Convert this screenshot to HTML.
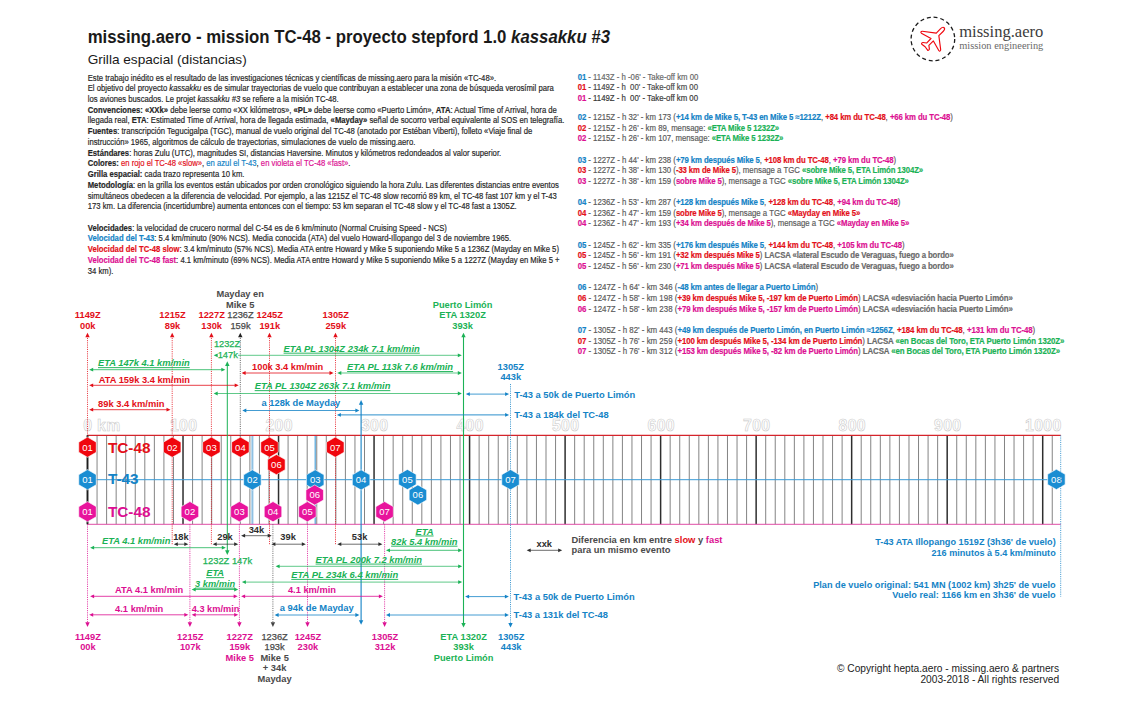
<!DOCTYPE html>
<html lang="es"><head><meta charset="utf-8"><title>missing.aero - mission TC-48 - Grilla espacial</title>
<style>
html,body{margin:0;padding:0;background:#fff;}
body{width:1140px;height:705px;overflow:hidden;font-family:"Liberation Sans",sans-serif;}
svg{display:block;font-family:"Liberation Sans",sans-serif;}
svg text{white-space:pre;}
</style></head><body>
<svg width="1140" height="705" viewBox="0 0 1140 705">
<rect x="0" y="0" width="1140" height="705" fill="#ffffff"/>
<text transform="translate(87.70 43.00) scale(0.8850 1)" font-size="19.0" fill="#1a1a1a" text-anchor="start" xml:space="preserve" textLength="590.17" lengthAdjust="spacingAndGlyphs" ><tspan font-weight="bold">missing.aero - mission TC-48 - proyecto stepford 1.0 </tspan><tspan font-weight="bold" font-style="italic">kassakku #3</tspan></text>
<text transform="translate(87.70 63.90) scale(1.0000 1)" font-size="13" fill="#1a1a1a" text-anchor="start" xml:space="preserve" textLength="159.00" lengthAdjust="spacingAndGlyphs" >Grilla espacial (distancias)</text>
<g id="leftblock">
<text transform="translate(87.70 80.55) scale(0.8754 1)" font-size="8.8" fill="#262626" text-anchor="start" xml:space="preserve" class="ll" stroke="#262626" stroke-width="0.18">Este trabajo inédito es el resultado de las investigaciones técnicas y científicas de missing.aero para la misión «TC-48».</text>
<text transform="translate(87.70 91.27) scale(0.8754 1)" font-size="8.8" fill="#262626" text-anchor="start" xml:space="preserve" class="ll" stroke="#262626" stroke-width="0.18">El objetivo del proyecto <tspan font-style="italic">kassakku</tspan> es de simular trayectorias de vuelo que contribuyan a establecer una zona de búsqueda verosímil para</text>
<text transform="translate(87.70 102.00) scale(0.8754 1)" font-size="8.8" fill="#262626" text-anchor="start" xml:space="preserve" class="ll" stroke="#262626" stroke-width="0.18">los aviones buscados. Le projet <tspan font-style="italic">kassakku #3</tspan> se refiere a la misión TC-48.</text>
<text transform="translate(87.70 112.72) scale(0.8754 1)" font-size="8.8" fill="#262626" text-anchor="start" xml:space="preserve" class="ll" stroke="#262626" stroke-width="0.18"><tspan font-weight="bold">Convenciones: «XXk»</tspan> debe leerse como «XX kilómetros», <tspan font-weight="bold">«PL»</tspan> debe leerse como «Puerto Limón», <tspan font-weight="bold">ATA</tspan>: Actual Time of Arrival, hora de</text>
<text transform="translate(87.70 123.45) scale(0.8754 1)" font-size="8.8" fill="#262626" text-anchor="start" xml:space="preserve" class="ll" stroke="#262626" stroke-width="0.18">llegada real, <tspan font-weight="bold">ETA</tspan>: Estimated Time of Arrival, hora de llegada estimada, <tspan font-weight="bold">«Mayday»</tspan> señal de socorro verbal equivalente al SOS en telegrafía.</text>
<text transform="translate(87.70 134.18) scale(0.8754 1)" font-size="8.8" fill="#262626" text-anchor="start" xml:space="preserve" class="ll" stroke="#262626" stroke-width="0.18"><tspan font-weight="bold">Fuentes</tspan>: transcripción Tegucigalpa (TGC), manual de vuelo original del TC-48 (anotado por Estéban Viberti), folleto «Viaje final de</text>
<text transform="translate(87.70 144.90) scale(0.8754 1)" font-size="8.8" fill="#262626" text-anchor="start" xml:space="preserve" class="ll" stroke="#262626" stroke-width="0.18">instrucción» 1965, algoritmos de cálculo de trayectorias, simulaciones de vuelo de missing.aero.</text>
<text transform="translate(87.70 155.62) scale(0.8754 1)" font-size="8.8" fill="#262626" text-anchor="start" xml:space="preserve" class="ll" stroke="#262626" stroke-width="0.18"><tspan font-weight="bold">Estándares</tspan>: horas Zulu (UTC), magnitudes SI, distancias Haversine. Minutos y kilómetros redondeados al valor superior.</text>
<text transform="translate(87.70 166.35) scale(0.8754 1)" font-size="8.8" fill="#262626" text-anchor="start" xml:space="preserve" class="ll" stroke="#262626" stroke-width="0.18"><tspan font-weight="bold">Colores:</tspan> <tspan fill="#e30f19" stroke="#e30f19">en rojo el TC-48 «slow»</tspan>, <tspan fill="#1483c6" stroke="#1483c6">en azul el T-43</tspan>, <tspan fill="#dc0f92" stroke="#dc0f92">en violeta el TC-48 «fast»</tspan>.</text>
<text transform="translate(87.70 177.07) scale(0.8754 1)" font-size="8.8" fill="#262626" text-anchor="start" xml:space="preserve" class="ll" stroke="#262626" stroke-width="0.18"><tspan font-weight="bold">Grilla espacial:</tspan> cada trazo representa 10 km.</text>
<text transform="translate(87.70 187.80) scale(0.8754 1)" font-size="8.8" fill="#262626" text-anchor="start" xml:space="preserve" class="ll" stroke="#262626" stroke-width="0.18"><tspan font-weight="bold">Metodología</tspan>: en la grilla los eventos están ubicados por orden cronológico siguiendo la hora Zulu. Las diferentes distancias entre eventos</text>
<text transform="translate(87.70 198.52) scale(0.8754 1)" font-size="8.8" fill="#262626" text-anchor="start" xml:space="preserve" class="ll" stroke="#262626" stroke-width="0.18">simultáneos obedecen a la diferencia de velocidad. Por ejemplo, a las 1215Z el TC-48 slow recorrió 89 km, el TC-48 fast 107 km y el T-43</text>
<text transform="translate(87.70 209.25) scale(0.8754 1)" font-size="8.8" fill="#262626" text-anchor="start" xml:space="preserve" class="ll" stroke="#262626" stroke-width="0.18">173 km. La diferencia (incertidumbre) aumenta entonces con el tiempo: 53 km separan el TC-48 slow y el TC-48 fast a 1305Z.</text>
<text transform="translate(87.70 230.70) scale(0.8754 1)" font-size="8.8" fill="#262626" text-anchor="start" xml:space="preserve" class="ll" stroke="#262626" stroke-width="0.18"><tspan font-weight="bold">Velocidades</tspan>: la velocidad de crucero normal del C-54 es de 6 km/minuto (Normal Cruising Speed - NCS)</text>
<text transform="translate(87.70 241.43) scale(0.8754 1)" font-size="8.8" fill="#262626" text-anchor="start" xml:space="preserve" class="ll" stroke="#262626" stroke-width="0.18"><tspan font-weight="bold" fill="#1483c6" stroke="#1483c6">Velocidad del T-43</tspan>: 5.4 km/minuto (90% NCS). Media conocida (ATA) del vuelo Howard-Illopango del 3 de noviembre 1965.</text>
<text transform="translate(87.70 252.15) scale(0.8754 1)" font-size="8.8" fill="#262626" text-anchor="start" xml:space="preserve" class="ll" stroke="#262626" stroke-width="0.18"><tspan font-weight="bold" fill="#e30f19" stroke="#e30f19">Velocidad del TC-48 slow</tspan>: 3.4 km/minuto (57% NCS). Media ATA entre Howard y Mike 5 suponiendo Mike 5 a 1236Z (Mayday en Mike 5)</text>
<text transform="translate(87.70 262.88) scale(0.8754 1)" font-size="8.8" fill="#262626" text-anchor="start" xml:space="preserve" class="ll" stroke="#262626" stroke-width="0.18"><tspan font-weight="bold" fill="#dc0f92" stroke="#dc0f92">Velocidad del TC-48 fast</tspan>: 4.1 km/minuto (69% NCS). Media ATA entre Howard y Mike 5 suponiendo Mike 5 a 1227Z (Mayday en Mike 5 +</text>
<text transform="translate(87.70 273.60) scale(0.8754 1)" font-size="8.8" fill="#262626" text-anchor="start" xml:space="preserve" class="ll" stroke="#262626" stroke-width="0.18">34 km).</text>
</g>
<g id="rightblock">
<text transform="translate(577.70 79.55) scale(0.8870 1)" font-size="8.8" fill="#686868" text-anchor="start" xml:space="preserve" class="rl" stroke="#686868" stroke-width="0.18"><tspan font-weight="bold" letter-spacing="-0.13" fill="#1483c6" stroke="#1483c6">01</tspan> - 1143Z - h -06' - Take-off km 00</text>
<text transform="translate(577.70 90.23) scale(0.8870 1)" font-size="8.8" fill="#484848" text-anchor="start" xml:space="preserve" class="rl" stroke="#484848" stroke-width="0.18"><tspan font-weight="bold" letter-spacing="-0.13" fill="#e30f19" stroke="#e30f19">01</tspan> - 1149Z - h  00' - Take-off km 00</text>
<text transform="translate(577.70 100.91) scale(0.8870 1)" font-size="8.8" fill="#383838" text-anchor="start" xml:space="preserve" class="rl" stroke="#383838" stroke-width="0.18"><tspan font-weight="bold" letter-spacing="-0.13" fill="#dc0f92" stroke="#dc0f92">01</tspan> - 1149Z - h  00' - Take-off km 00</text>
<text transform="translate(577.70 119.90) scale(0.8870 1)" font-size="8.8" fill="#5a5a5a" text-anchor="start" xml:space="preserve" class="rl" stroke="#5a5a5a" stroke-width="0.18"><tspan font-weight="bold" letter-spacing="-0.13" fill="#1483c6" stroke="#1483c6">02</tspan> - 1215Z - h 32' - km 173 (<tspan font-weight="bold" letter-spacing="-0.13" fill="#1483c6" stroke="#1483c6">+14 km de Mike 5, T-43 en Mike 5 ≈1212Z</tspan>, <tspan font-weight="bold" letter-spacing="-0.13" fill="#e30f19" stroke="#e30f19">+84 km du TC-48</tspan>, <tspan font-weight="bold" letter-spacing="-0.13" fill="#dc0f92" stroke="#dc0f92">+66 km du TC-48</tspan>)</text>
<text transform="translate(577.70 130.55) scale(0.8870 1)" font-size="8.8" fill="#5a5a5a" text-anchor="start" xml:space="preserve" class="rl" stroke="#5a5a5a" stroke-width="0.18"><tspan font-weight="bold" letter-spacing="-0.13" fill="#e30f19" stroke="#e30f19">02</tspan> - 1215Z - h 26' - km 89, mensage: <tspan font-weight="bold" letter-spacing="-0.13" fill="#1bb256" stroke="#1bb256">«ETA Mike 5 1232Z»</tspan></text>
<text transform="translate(577.70 141.20) scale(0.8870 1)" font-size="8.8" fill="#5a5a5a" text-anchor="start" xml:space="preserve" class="rl" stroke="#5a5a5a" stroke-width="0.18"><tspan font-weight="bold" letter-spacing="-0.13" fill="#dc0f92" stroke="#dc0f92">02</tspan> - 1215Z - h 26' - km 107, mensage: <tspan font-weight="bold" letter-spacing="-0.13" fill="#1bb256" stroke="#1bb256">«ETA Mike 5 1232Z»</tspan></text>
<text transform="translate(577.70 162.50) scale(0.8870 1)" font-size="8.8" fill="#5a5a5a" text-anchor="start" xml:space="preserve" class="rl" stroke="#5a5a5a" stroke-width="0.18"><tspan font-weight="bold" letter-spacing="-0.13" fill="#1483c6" stroke="#1483c6">03</tspan> - 1227Z - h 44' - km 238 (<tspan font-weight="bold" letter-spacing="-0.13" fill="#1483c6" stroke="#1483c6">+79 km después Mike 5</tspan>, <tspan font-weight="bold" letter-spacing="-0.13" fill="#e30f19" stroke="#e30f19">+108 km du TC-48</tspan>, <tspan font-weight="bold" letter-spacing="-0.13" fill="#dc0f92" stroke="#dc0f92">+79 km du TC-48</tspan>)</text>
<text transform="translate(577.70 173.15) scale(0.8870 1)" font-size="8.8" fill="#5a5a5a" text-anchor="start" xml:space="preserve" class="rl" stroke="#5a5a5a" stroke-width="0.18"><tspan font-weight="bold" letter-spacing="-0.13" fill="#e30f19" stroke="#e30f19">03</tspan> - 1227Z - h 38' - km 130 (<tspan font-weight="bold" letter-spacing="-0.13" fill="#e30f19" stroke="#e30f19">-33 km de Mike 5</tspan>), mensage a TGC <tspan font-weight="bold" letter-spacing="-0.13" fill="#1bb256" stroke="#1bb256">«sobre Mike 5, ETA Limón 1304Z»</tspan></text>
<text transform="translate(577.70 183.80) scale(0.8870 1)" font-size="8.8" fill="#5a5a5a" text-anchor="start" xml:space="preserve" class="rl" stroke="#5a5a5a" stroke-width="0.18"><tspan font-weight="bold" letter-spacing="-0.13" fill="#dc0f92" stroke="#dc0f92">03</tspan> - 1227Z - h 38' - km 159 (<tspan font-weight="bold" letter-spacing="-0.13" fill="#dc0f92" stroke="#dc0f92">sobre Mike 5</tspan>), mensage a TGC <tspan font-weight="bold" letter-spacing="-0.13" fill="#1bb256" stroke="#1bb256">«sobre Mike 5, ETA Limón 1304Z»</tspan></text>
<text transform="translate(577.70 205.10) scale(0.8870 1)" font-size="8.8" fill="#5a5a5a" text-anchor="start" xml:space="preserve" class="rl" stroke="#5a5a5a" stroke-width="0.18"><tspan font-weight="bold" letter-spacing="-0.13" fill="#1483c6" stroke="#1483c6">04</tspan> - 1236Z - h 53' - km 287 (<tspan font-weight="bold" letter-spacing="-0.13" fill="#1483c6" stroke="#1483c6">+128 km después Mike 5</tspan>, <tspan font-weight="bold" letter-spacing="-0.13" fill="#e30f19" stroke="#e30f19">+128 km du TC-48</tspan>, <tspan font-weight="bold" letter-spacing="-0.13" fill="#dc0f92" stroke="#dc0f92">+94 km du TC-48</tspan>)</text>
<text transform="translate(577.70 215.75) scale(0.8870 1)" font-size="8.8" fill="#5a5a5a" text-anchor="start" xml:space="preserve" class="rl" stroke="#5a5a5a" stroke-width="0.18"><tspan font-weight="bold" letter-spacing="-0.13" fill="#e30f19" stroke="#e30f19">04</tspan> - 1236Z - h 47' - km 159 (<tspan font-weight="bold" letter-spacing="-0.13" fill="#e30f19" stroke="#e30f19">sobre Mike 5</tspan>), mensage a TGC <tspan font-weight="bold" letter-spacing="-0.13" fill="#e30f19" stroke="#e30f19">«Mayday en Mike 5»</tspan></text>
<text transform="translate(577.70 226.40) scale(0.8870 1)" font-size="8.8" fill="#5a5a5a" text-anchor="start" xml:space="preserve" class="rl" stroke="#5a5a5a" stroke-width="0.18"><tspan font-weight="bold" letter-spacing="-0.13" fill="#dc0f92" stroke="#dc0f92">04</tspan> - 1236Z - h 47' - km 193 (<tspan font-weight="bold" letter-spacing="-0.13" fill="#dc0f92" stroke="#dc0f92">+34 km después de Mike 5</tspan>), mensage a TGC <tspan font-weight="bold" letter-spacing="-0.13" fill="#dc0f92" stroke="#dc0f92">«Mayday en Mike 5»</tspan></text>
<text transform="translate(577.70 247.70) scale(0.8870 1)" font-size="8.8" fill="#5a5a5a" text-anchor="start" xml:space="preserve" class="rl" stroke="#5a5a5a" stroke-width="0.18"><tspan font-weight="bold" letter-spacing="-0.13" fill="#1483c6" stroke="#1483c6">05</tspan> - 1245Z - h 62' - km 335 (<tspan font-weight="bold" letter-spacing="-0.13" fill="#1483c6" stroke="#1483c6">+176 km después Mike 5</tspan>, <tspan font-weight="bold" letter-spacing="-0.13" fill="#e30f19" stroke="#e30f19">+144 km du TC-48</tspan>, <tspan font-weight="bold" letter-spacing="-0.13" fill="#dc0f92" stroke="#dc0f92">+105 km du TC-48</tspan>)</text>
<text transform="translate(577.70 258.35) scale(0.8870 1)" font-size="8.8" fill="#5a5a5a" text-anchor="start" xml:space="preserve" class="rl" stroke="#5a5a5a" stroke-width="0.18"><tspan font-weight="bold" letter-spacing="-0.13" fill="#e30f19" stroke="#e30f19">05</tspan> - 1245Z - h 56' - km 191 (<tspan font-weight="bold" letter-spacing="-0.13" fill="#e30f19" stroke="#e30f19">+32 km después Mike 5</tspan>)<tspan font-weight="bold" letter-spacing="-0.13" fill="#6a6a6a" stroke="#6a6a6a"> LACSA «lateral Escudo de Veraguas, fuego a bordo»</tspan></text>
<text transform="translate(577.70 269.00) scale(0.8870 1)" font-size="8.8" fill="#5a5a5a" text-anchor="start" xml:space="preserve" class="rl" stroke="#5a5a5a" stroke-width="0.18"><tspan font-weight="bold" letter-spacing="-0.13" fill="#dc0f92" stroke="#dc0f92">05</tspan> - 1245Z - h 56' - km 230 (<tspan font-weight="bold" letter-spacing="-0.13" fill="#dc0f92" stroke="#dc0f92">+71 km después Mike 5</tspan>)<tspan font-weight="bold" letter-spacing="-0.13" fill="#6a6a6a" stroke="#6a6a6a"> LACSA «lateral Escudo de Veraguas, fuego a bordo»</tspan></text>
<text transform="translate(577.70 290.30) scale(0.8990 1)" font-size="8.8" fill="#5a5a5a" text-anchor="start" xml:space="preserve" class="rl" stroke="#5a5a5a" stroke-width="0.18"><tspan font-weight="bold" letter-spacing="-0.13" fill="#1483c6" stroke="#1483c6">06</tspan> - 1247Z - h 64' - km 346 (<tspan font-weight="bold" letter-spacing="-0.13" fill="#1483c6" stroke="#1483c6">-48 km antes de llegar a Puerto Limón</tspan>)</text>
<text transform="translate(577.70 300.95) scale(0.8990 1)" font-size="8.8" fill="#5a5a5a" text-anchor="start" xml:space="preserve" class="rl" stroke="#5a5a5a" stroke-width="0.18"><tspan font-weight="bold" letter-spacing="-0.13" fill="#e30f19" stroke="#e30f19">06</tspan> - 1247Z - h 58' - km 198 (<tspan font-weight="bold" letter-spacing="-0.13" fill="#e30f19" stroke="#e30f19">+39 km después Mike 5, -197 km de Puerto Limón</tspan>)<tspan font-weight="bold" letter-spacing="-0.13" fill="#6a6a6a" stroke="#6a6a6a"> LACSA «desviación hacia Puerto Limón»</tspan></text>
<text transform="translate(577.70 311.60) scale(0.8990 1)" font-size="8.8" fill="#5a5a5a" text-anchor="start" xml:space="preserve" class="rl" stroke="#5a5a5a" stroke-width="0.18"><tspan font-weight="bold" letter-spacing="-0.13" fill="#dc0f92" stroke="#dc0f92">06</tspan> - 1247Z - h 58' - km 238 (<tspan font-weight="bold" letter-spacing="-0.13" fill="#dc0f92" stroke="#dc0f92">+79 km después Mike 5, -157 km de Puerto Limón</tspan>)<tspan font-weight="bold" letter-spacing="-0.13" fill="#6a6a6a" stroke="#6a6a6a"> LACSA «desviación hacia Puerto Limón»</tspan></text>
<text transform="translate(577.70 332.90) scale(0.8990 1)" font-size="8.8" fill="#5a5a5a" text-anchor="start" xml:space="preserve" class="rl" stroke="#5a5a5a" stroke-width="0.18"><tspan font-weight="bold" letter-spacing="-0.13" fill="#1483c6" stroke="#1483c6">07</tspan> - 1305Z - h 82' - km 443 (<tspan font-weight="bold" letter-spacing="-0.13" fill="#1483c6" stroke="#1483c6">+49 km después de Puerto Limón, en Puerto Limón ≈1256Z</tspan>, <tspan font-weight="bold" letter-spacing="-0.13" fill="#e30f19" stroke="#e30f19">+184 km du TC-48</tspan>, <tspan font-weight="bold" letter-spacing="-0.13" fill="#dc0f92" stroke="#dc0f92">+131 km du TC-48</tspan>)</text>
<text transform="translate(577.70 343.55) scale(0.8990 1)" font-size="8.8" fill="#5a5a5a" text-anchor="start" xml:space="preserve" class="rl" stroke="#5a5a5a" stroke-width="0.18"><tspan font-weight="bold" letter-spacing="-0.13" fill="#e30f19" stroke="#e30f19">07</tspan> - 1305Z - h 76' - km 259 (<tspan font-weight="bold" letter-spacing="-0.13" fill="#e30f19" stroke="#e30f19">+100 km después Mike 5, -134 km de Puerto Limón</tspan>)<tspan font-weight="bold" letter-spacing="-0.13" fill="#6a6a6a" stroke="#6a6a6a"> LACSA </tspan><tspan font-weight="bold" letter-spacing="-0.13" fill="#1bb256" stroke="#1bb256">«en Bocas del Toro, ETA Puerto Limón 1320Z»</tspan></text>
<text transform="translate(577.70 354.20) scale(0.8990 1)" font-size="8.8" fill="#5a5a5a" text-anchor="start" xml:space="preserve" class="rl" stroke="#5a5a5a" stroke-width="0.18"><tspan font-weight="bold" letter-spacing="-0.13" fill="#dc0f92" stroke="#dc0f92">07</tspan> - 1305Z - h 76' - km 312 (<tspan font-weight="bold" letter-spacing="-0.13" fill="#dc0f92" stroke="#dc0f92">+153 km después Mike 5, -82 km de Puerto Limón</tspan>)<tspan font-weight="bold" letter-spacing="-0.13" fill="#6a6a6a" stroke="#6a6a6a"> LACSA </tspan><tspan font-weight="bold" letter-spacing="-0.13" fill="#1bb256" stroke="#1bb256">«en Bocas del Toro, ETA Puerto Limón 1320Z»</tspan></text>
</g>
<g id="logo">
<circle cx="932.9" cy="39.0" r="21.8" fill="none" stroke="#1c1c1c" stroke-width="1.3" stroke-dasharray="4.0 2.85"/>
<g transform="translate(932.9 39.0) rotate(45)"><path d="M0,-15.9 C1.3,-15.9 1.9,-14.2 1.9,-12.5 L1.8,-6.6 L13.0,2.0 C13.9,2.7 13.5,4.3 12.3,4.0 L1.7,1.0 L1.6,7.3 L4.5,9.5 C5.2,10.1 5.0,11.7 4.1,11.6 L0,11.0 L-4.1,11.6 C-5.0,11.7 -5.2,10.1 -4.5,9.5 L-1.6,7.3 L-1.7,1.0 L-12.3,4.0 C-13.5,4.3 -13.9,2.7 -13.0,2.0 L-1.8,-6.6 L-1.9,-12.5 C-1.9,-14.2 -1.3,-15.9 0,-15.9 Z" fill="none" stroke="#f0060e" stroke-width="1.15" stroke-linejoin="round"/></g>
<text x="959.2" y="37" font-family="Liberation Serif, serif" font-size="16.5" fill="#3c3c3c" textLength="84.1" lengthAdjust="spacingAndGlyphs">missing.aero</text>
<text x="959.2" y="48.7" font-family="Liberation Serif, serif" font-size="10.4" fill="#6a6a6a" textLength="84.1" lengthAdjust="spacingAndGlyphs">mission engineering</text>
</g>
<g id="grid">
<text x="83.2" y="430.5" font-size="15.8" font-weight="bold" letter-spacing="0.35" fill="#fff" stroke="#c9c9c9" stroke-width="0.55">0 km</text>
<text x="183.62" y="430.5" font-size="15.8" font-weight="bold" letter-spacing="0.35" fill="#fff" stroke="#c9c9c9" stroke-width="0.55" text-anchor="middle">100</text>
<text x="279.14" y="430.5" font-size="15.8" font-weight="bold" letter-spacing="0.35" fill="#fff" stroke="#c9c9c9" stroke-width="0.55" text-anchor="middle">200</text>
<text x="374.66" y="430.5" font-size="15.8" font-weight="bold" letter-spacing="0.35" fill="#fff" stroke="#c9c9c9" stroke-width="0.55" text-anchor="middle">300</text>
<text x="470.18" y="430.5" font-size="15.8" font-weight="bold" letter-spacing="0.35" fill="#fff" stroke="#c9c9c9" stroke-width="0.55" text-anchor="middle">400</text>
<text x="565.70" y="430.5" font-size="15.8" font-weight="bold" letter-spacing="0.35" fill="#fff" stroke="#c9c9c9" stroke-width="0.55" text-anchor="middle">500</text>
<text x="661.22" y="430.5" font-size="15.8" font-weight="bold" letter-spacing="0.35" fill="#fff" stroke="#c9c9c9" stroke-width="0.55" text-anchor="middle">600</text>
<text x="756.74" y="430.5" font-size="15.8" font-weight="bold" letter-spacing="0.35" fill="#fff" stroke="#c9c9c9" stroke-width="0.55" text-anchor="middle">700</text>
<text x="852.26" y="430.5" font-size="15.8" font-weight="bold" letter-spacing="0.35" fill="#fff" stroke="#c9c9c9" stroke-width="0.55" text-anchor="middle">800</text>
<text x="947.78" y="430.5" font-size="15.8" font-weight="bold" letter-spacing="0.35" fill="#fff" stroke="#c9c9c9" stroke-width="0.55" text-anchor="middle">900</text>
<text x="1043.30" y="430.5" font-size="15.8" font-weight="bold" letter-spacing="0.35" fill="#fff" stroke="#c9c9c9" stroke-width="0.55" text-anchor="middle">1000</text>
<line x1="87.50" y1="435.30" x2="87.50" y2="524.30" stroke="#2e2e2e" stroke-width="1.5"/>
<line x1="97.05" y1="435.30" x2="97.05" y2="524.30" stroke="#6e6e6e" stroke-width="0.85"/>
<line x1="106.60" y1="435.30" x2="106.60" y2="524.30" stroke="#6e6e6e" stroke-width="0.85"/>
<line x1="116.16" y1="435.30" x2="116.16" y2="524.30" stroke="#6e6e6e" stroke-width="0.85"/>
<line x1="125.71" y1="435.30" x2="125.71" y2="524.30" stroke="#6e6e6e" stroke-width="0.85"/>
<line x1="135.26" y1="435.30" x2="135.26" y2="524.30" stroke="#6e6e6e" stroke-width="0.85"/>
<line x1="144.81" y1="435.30" x2="144.81" y2="524.30" stroke="#6e6e6e" stroke-width="0.85"/>
<line x1="154.36" y1="435.30" x2="154.36" y2="524.30" stroke="#6e6e6e" stroke-width="0.85"/>
<line x1="163.92" y1="435.30" x2="163.92" y2="524.30" stroke="#6e6e6e" stroke-width="0.85"/>
<line x1="173.47" y1="435.30" x2="173.47" y2="524.30" stroke="#6e6e6e" stroke-width="0.85"/>
<line x1="183.02" y1="435.30" x2="183.02" y2="524.30" stroke="#2e2e2e" stroke-width="1.5"/>
<line x1="192.57" y1="435.30" x2="192.57" y2="524.30" stroke="#6e6e6e" stroke-width="0.85"/>
<line x1="202.12" y1="435.30" x2="202.12" y2="524.30" stroke="#6e6e6e" stroke-width="0.85"/>
<line x1="211.68" y1="435.30" x2="211.68" y2="524.30" stroke="#6e6e6e" stroke-width="0.85"/>
<line x1="221.23" y1="435.30" x2="221.23" y2="524.30" stroke="#6e6e6e" stroke-width="0.85"/>
<line x1="230.78" y1="435.30" x2="230.78" y2="524.30" stroke="#6e6e6e" stroke-width="0.85"/>
<line x1="240.33" y1="435.30" x2="240.33" y2="524.30" stroke="#6e6e6e" stroke-width="0.85"/>
<line x1="249.88" y1="435.30" x2="249.88" y2="524.30" stroke="#6e6e6e" stroke-width="0.85"/>
<line x1="259.44" y1="435.30" x2="259.44" y2="524.30" stroke="#6e6e6e" stroke-width="0.85"/>
<line x1="268.99" y1="435.30" x2="268.99" y2="524.30" stroke="#6e6e6e" stroke-width="0.85"/>
<line x1="278.54" y1="435.30" x2="278.54" y2="524.30" stroke="#2e2e2e" stroke-width="1.5"/>
<line x1="288.09" y1="435.30" x2="288.09" y2="524.30" stroke="#6e6e6e" stroke-width="0.85"/>
<line x1="297.64" y1="435.30" x2="297.64" y2="524.30" stroke="#6e6e6e" stroke-width="0.85"/>
<line x1="307.20" y1="435.30" x2="307.20" y2="524.30" stroke="#6e6e6e" stroke-width="0.85"/>
<line x1="316.75" y1="435.30" x2="316.75" y2="524.30" stroke="#6e6e6e" stroke-width="0.85"/>
<line x1="326.30" y1="435.30" x2="326.30" y2="524.30" stroke="#6e6e6e" stroke-width="0.85"/>
<line x1="335.85" y1="435.30" x2="335.85" y2="524.30" stroke="#6e6e6e" stroke-width="0.85"/>
<line x1="345.40" y1="435.30" x2="345.40" y2="524.30" stroke="#6e6e6e" stroke-width="0.85"/>
<line x1="354.96" y1="435.30" x2="354.96" y2="524.30" stroke="#6e6e6e" stroke-width="0.85"/>
<line x1="364.51" y1="435.30" x2="364.51" y2="524.30" stroke="#6e6e6e" stroke-width="0.85"/>
<line x1="374.06" y1="435.30" x2="374.06" y2="524.30" stroke="#2e2e2e" stroke-width="1.5"/>
<line x1="383.61" y1="435.30" x2="383.61" y2="524.30" stroke="#6e6e6e" stroke-width="0.85"/>
<line x1="393.16" y1="435.30" x2="393.16" y2="524.30" stroke="#6e6e6e" stroke-width="0.85"/>
<line x1="402.72" y1="435.30" x2="402.72" y2="524.30" stroke="#6e6e6e" stroke-width="0.85"/>
<line x1="412.27" y1="435.30" x2="412.27" y2="524.30" stroke="#6e6e6e" stroke-width="0.85"/>
<line x1="421.82" y1="435.30" x2="421.82" y2="524.30" stroke="#6e6e6e" stroke-width="0.85"/>
<line x1="431.37" y1="435.30" x2="431.37" y2="524.30" stroke="#6e6e6e" stroke-width="0.85"/>
<line x1="440.92" y1="435.30" x2="440.92" y2="524.30" stroke="#6e6e6e" stroke-width="0.85"/>
<line x1="450.48" y1="435.30" x2="450.48" y2="524.30" stroke="#6e6e6e" stroke-width="0.85"/>
<line x1="460.03" y1="435.30" x2="460.03" y2="524.30" stroke="#6e6e6e" stroke-width="0.85"/>
<line x1="469.58" y1="435.30" x2="469.58" y2="524.30" stroke="#2e2e2e" stroke-width="1.5"/>
<line x1="479.13" y1="435.30" x2="479.13" y2="524.30" stroke="#6e6e6e" stroke-width="0.85"/>
<line x1="488.68" y1="435.30" x2="488.68" y2="524.30" stroke="#6e6e6e" stroke-width="0.85"/>
<line x1="498.24" y1="435.30" x2="498.24" y2="524.30" stroke="#6e6e6e" stroke-width="0.85"/>
<line x1="507.79" y1="435.30" x2="507.79" y2="524.30" stroke="#6e6e6e" stroke-width="0.85"/>
<line x1="517.34" y1="435.30" x2="517.34" y2="524.30" stroke="#6e6e6e" stroke-width="0.85"/>
<line x1="526.89" y1="435.30" x2="526.89" y2="524.30" stroke="#6e6e6e" stroke-width="0.85"/>
<line x1="536.44" y1="435.30" x2="536.44" y2="524.30" stroke="#6e6e6e" stroke-width="0.85"/>
<line x1="546.00" y1="435.30" x2="546.00" y2="524.30" stroke="#6e6e6e" stroke-width="0.85"/>
<line x1="555.55" y1="435.30" x2="555.55" y2="524.30" stroke="#6e6e6e" stroke-width="0.85"/>
<line x1="565.10" y1="435.30" x2="565.10" y2="524.30" stroke="#2e2e2e" stroke-width="1.5"/>
<line x1="574.65" y1="435.30" x2="574.65" y2="524.30" stroke="#6e6e6e" stroke-width="0.85"/>
<line x1="584.20" y1="435.30" x2="584.20" y2="524.30" stroke="#6e6e6e" stroke-width="0.85"/>
<line x1="593.76" y1="435.30" x2="593.76" y2="524.30" stroke="#6e6e6e" stroke-width="0.85"/>
<line x1="603.31" y1="435.30" x2="603.31" y2="524.30" stroke="#6e6e6e" stroke-width="0.85"/>
<line x1="612.86" y1="435.30" x2="612.86" y2="524.30" stroke="#6e6e6e" stroke-width="0.85"/>
<line x1="622.41" y1="435.30" x2="622.41" y2="524.30" stroke="#6e6e6e" stroke-width="0.85"/>
<line x1="631.96" y1="435.30" x2="631.96" y2="524.30" stroke="#6e6e6e" stroke-width="0.85"/>
<line x1="641.52" y1="435.30" x2="641.52" y2="524.30" stroke="#6e6e6e" stroke-width="0.85"/>
<line x1="651.07" y1="435.30" x2="651.07" y2="524.30" stroke="#6e6e6e" stroke-width="0.85"/>
<line x1="660.62" y1="435.30" x2="660.62" y2="524.30" stroke="#2e2e2e" stroke-width="1.5"/>
<line x1="670.17" y1="435.30" x2="670.17" y2="524.30" stroke="#6e6e6e" stroke-width="0.85"/>
<line x1="679.72" y1="435.30" x2="679.72" y2="524.30" stroke="#6e6e6e" stroke-width="0.85"/>
<line x1="689.28" y1="435.30" x2="689.28" y2="524.30" stroke="#6e6e6e" stroke-width="0.85"/>
<line x1="698.83" y1="435.30" x2="698.83" y2="524.30" stroke="#6e6e6e" stroke-width="0.85"/>
<line x1="708.38" y1="435.30" x2="708.38" y2="524.30" stroke="#6e6e6e" stroke-width="0.85"/>
<line x1="717.93" y1="435.30" x2="717.93" y2="524.30" stroke="#6e6e6e" stroke-width="0.85"/>
<line x1="727.48" y1="435.30" x2="727.48" y2="524.30" stroke="#6e6e6e" stroke-width="0.85"/>
<line x1="737.04" y1="435.30" x2="737.04" y2="524.30" stroke="#6e6e6e" stroke-width="0.85"/>
<line x1="746.59" y1="435.30" x2="746.59" y2="524.30" stroke="#6e6e6e" stroke-width="0.85"/>
<line x1="756.14" y1="435.30" x2="756.14" y2="524.30" stroke="#2e2e2e" stroke-width="1.5"/>
<line x1="765.69" y1="435.30" x2="765.69" y2="524.30" stroke="#6e6e6e" stroke-width="0.85"/>
<line x1="775.24" y1="435.30" x2="775.24" y2="524.30" stroke="#6e6e6e" stroke-width="0.85"/>
<line x1="784.80" y1="435.30" x2="784.80" y2="524.30" stroke="#6e6e6e" stroke-width="0.85"/>
<line x1="794.35" y1="435.30" x2="794.35" y2="524.30" stroke="#6e6e6e" stroke-width="0.85"/>
<line x1="803.90" y1="435.30" x2="803.90" y2="524.30" stroke="#6e6e6e" stroke-width="0.85"/>
<line x1="813.45" y1="435.30" x2="813.45" y2="524.30" stroke="#6e6e6e" stroke-width="0.85"/>
<line x1="823.00" y1="435.30" x2="823.00" y2="524.30" stroke="#6e6e6e" stroke-width="0.85"/>
<line x1="832.56" y1="435.30" x2="832.56" y2="524.30" stroke="#6e6e6e" stroke-width="0.85"/>
<line x1="842.11" y1="435.30" x2="842.11" y2="524.30" stroke="#6e6e6e" stroke-width="0.85"/>
<line x1="851.66" y1="435.30" x2="851.66" y2="524.30" stroke="#2e2e2e" stroke-width="1.5"/>
<line x1="861.21" y1="435.30" x2="861.21" y2="524.30" stroke="#6e6e6e" stroke-width="0.85"/>
<line x1="870.76" y1="435.30" x2="870.76" y2="524.30" stroke="#6e6e6e" stroke-width="0.85"/>
<line x1="880.32" y1="435.30" x2="880.32" y2="524.30" stroke="#6e6e6e" stroke-width="0.85"/>
<line x1="889.87" y1="435.30" x2="889.87" y2="524.30" stroke="#6e6e6e" stroke-width="0.85"/>
<line x1="899.42" y1="435.30" x2="899.42" y2="524.30" stroke="#6e6e6e" stroke-width="0.85"/>
<line x1="908.97" y1="435.30" x2="908.97" y2="524.30" stroke="#6e6e6e" stroke-width="0.85"/>
<line x1="918.52" y1="435.30" x2="918.52" y2="524.30" stroke="#6e6e6e" stroke-width="0.85"/>
<line x1="928.08" y1="435.30" x2="928.08" y2="524.30" stroke="#6e6e6e" stroke-width="0.85"/>
<line x1="937.63" y1="435.30" x2="937.63" y2="524.30" stroke="#6e6e6e" stroke-width="0.85"/>
<line x1="947.18" y1="435.30" x2="947.18" y2="524.30" stroke="#2e2e2e" stroke-width="1.5"/>
<line x1="956.73" y1="435.30" x2="956.73" y2="524.30" stroke="#6e6e6e" stroke-width="0.85"/>
<line x1="966.28" y1="435.30" x2="966.28" y2="524.30" stroke="#6e6e6e" stroke-width="0.85"/>
<line x1="975.84" y1="435.30" x2="975.84" y2="524.30" stroke="#6e6e6e" stroke-width="0.85"/>
<line x1="985.39" y1="435.30" x2="985.39" y2="524.30" stroke="#6e6e6e" stroke-width="0.85"/>
<line x1="994.94" y1="435.30" x2="994.94" y2="524.30" stroke="#6e6e6e" stroke-width="0.85"/>
<line x1="1004.49" y1="435.30" x2="1004.49" y2="524.30" stroke="#6e6e6e" stroke-width="0.85"/>
<line x1="1014.04" y1="435.30" x2="1014.04" y2="524.30" stroke="#6e6e6e" stroke-width="0.85"/>
<line x1="1023.60" y1="435.30" x2="1023.60" y2="524.30" stroke="#6e6e6e" stroke-width="0.85"/>
<line x1="1033.15" y1="435.30" x2="1033.15" y2="524.30" stroke="#6e6e6e" stroke-width="0.85"/>
<line x1="1042.70" y1="435.30" x2="1042.70" y2="524.30" stroke="#2e2e2e" stroke-width="1.5"/>
<line x1="1052.25" y1="435.30" x2="1052.25" y2="524.30" stroke="#6e6e6e" stroke-width="0.85"/>
<line x1="252.4" y1="435.30" x2="252.4" y2="524.30" stroke="#8fc1e3" stroke-width="2"/>
<line x1="315.2" y1="435.30" x2="315.2" y2="524.30" stroke="#4fa3d9" stroke-width="1.2"/>
<line x1="87.50" y1="435.30" x2="1060.80" y2="435.30" stroke="#d5242b" stroke-width="1.15"/>
<line x1="87.50" y1="524.30" x2="1060.80" y2="524.30" stroke="#df4ea5" stroke-width="1.0"/>
<line x1="87.50" y1="479.70" x2="1057.00" y2="479.70" stroke="#3a9bd6" stroke-width="1"/>
</g>
<g id="top">
<line x1="87.50" y1="335.70" x2="87.50" y2="435.30" stroke="#e30f19" stroke-width="0.80" stroke-dasharray="1.1 1.1"/>
<path d="M87.50,332.70 L85.30,337.30 L89.70,337.30 Z" fill="#e30f19"/>
<text x="87.80" y="318.20" font-size="9.3" fill="#e30f19" text-anchor="middle" font-weight="bold">1149Z</text>
<text x="87.80" y="328.90" font-size="9.3" fill="#e30f19" text-anchor="middle" font-weight="bold">00k</text>
<line x1="172.20" y1="335.70" x2="172.20" y2="435.30" stroke="#e30f19" stroke-width="0.80" stroke-dasharray="1.1 1.1"/>
<path d="M172.20,332.70 L170.00,337.30 L174.40,337.30 Z" fill="#e30f19"/>
<text x="172.50" y="318.20" font-size="9.3" fill="#e30f19" text-anchor="middle" font-weight="bold">1215Z</text>
<text x="172.50" y="328.90" font-size="9.3" fill="#e30f19" text-anchor="middle" font-weight="bold">89k</text>
<line x1="211.40" y1="335.70" x2="211.40" y2="435.30" stroke="#e30f19" stroke-width="0.80" stroke-dasharray="1.1 1.1"/>
<path d="M211.40,332.70 L209.20,337.30 L213.60,337.30 Z" fill="#e30f19"/>
<text x="211.70" y="318.20" font-size="9.3" fill="#e30f19" text-anchor="middle" font-weight="bold">1227Z</text>
<text x="211.70" y="328.90" font-size="9.3" fill="#e30f19" text-anchor="middle" font-weight="bold">130k</text>
<line x1="269.50" y1="335.70" x2="269.50" y2="435.30" stroke="#e30f19" stroke-width="0.80" stroke-dasharray="1.1 1.1"/>
<path d="M269.50,332.70 L267.30,337.30 L271.70,337.30 Z" fill="#e30f19"/>
<text x="269.80" y="318.20" font-size="9.3" fill="#e30f19" text-anchor="middle" font-weight="bold">1245Z</text>
<text x="269.80" y="328.90" font-size="9.3" fill="#e30f19" text-anchor="middle" font-weight="bold">191k</text>
<line x1="335.50" y1="335.70" x2="335.50" y2="435.30" stroke="#e30f19" stroke-width="0.80" stroke-dasharray="1.1 1.1"/>
<path d="M335.50,332.70 L333.30,337.30 L337.70,337.30 Z" fill="#e30f19"/>
<text x="335.80" y="318.20" font-size="9.3" fill="#e30f19" text-anchor="middle" font-weight="bold">1305Z</text>
<text x="335.80" y="328.90" font-size="9.3" fill="#e30f19" text-anchor="middle" font-weight="bold">259k</text>
<line x1="240.30" y1="335.70" x2="240.30" y2="435.30" stroke="#444" stroke-width="0.80" stroke-dasharray="1.1 1.1"/>
<path d="M240.30,332.70 L238.10,337.30 L242.50,337.30 Z" fill="#222"/>
<text x="240.50" y="318.20" font-size="9.3" fill="#4a4a4a" text-anchor="middle" stroke="#4a4a4a" stroke-width="0.25">1236Z</text>
<text x="240.50" y="328.90" font-size="9.3" fill="#4a4a4a" text-anchor="middle" stroke="#4a4a4a" stroke-width="0.25">159k</text>
<text x="240.20" y="296.90" font-size="9.3" fill="#4a4a4a" text-anchor="middle" font-weight="bold">Mayday en</text>
<text x="240.20" y="307.60" font-size="9.3" fill="#4a4a4a" text-anchor="middle" font-weight="bold">Mike 5</text>
<text x="213.90" y="347.10" font-size="9.3" fill="#1bb256" text-anchor="start" stroke="#1bb256" stroke-width="0.25" textLength="26.30" lengthAdjust="spacingAndGlyphs">1232Z</text>
<text x="217.70" y="357.90" font-size="9.3" fill="#1bb256" text-anchor="start" stroke="#1bb256" stroke-width="0.25">147k</text>
</g>
<g id="toparrows">
<line x1="227.30" y1="364.30" x2="227.30" y2="551.50" stroke="#1bb256" stroke-width="1.00"/>
<path d="M227.30,361.30 L225.10,365.90 L229.50,365.90 Z" fill="#1bb256"/>
<path d="M227.30,554.90 L225.10,550.30 L229.50,550.30 Z" fill="#1bb256"/>
<line x1="463.50" y1="335.70" x2="463.50" y2="624.00" stroke="#1bb256" stroke-width="1.10"/>
<path d="M463.50,332.70 L461.30,337.30 L465.70,337.30 Z" fill="#1bb256"/>
<path d="M463.50,627.60 L461.30,623.00 L465.70,623.00 Z" fill="#1bb256"/>
<text x="462.60" y="307.70" font-size="9.3" fill="#1bb256" text-anchor="middle" font-weight="bold" textLength="59.70" lengthAdjust="spacingAndGlyphs">Puerto Limón</text>
<text x="462.60" y="318.10" font-size="9.3" fill="#1bb256" text-anchor="middle" font-weight="bold" textLength="46.80" lengthAdjust="spacingAndGlyphs">ETA 1320Z</text>
<text x="462.60" y="328.70" font-size="9.3" fill="#1bb256" text-anchor="middle" font-weight="bold">393k</text>
<text x="98.00" y="366.20" font-size="9.3" fill="#1bb256" text-anchor="start" font-weight="bold" font-style="italic" textLength="91.70" lengthAdjust="spacingAndGlyphs" text-decoration="underline">ETA 147k 4.1 km/min</text>
<line x1="91.20" y1="369.70" x2="223.30" y2="369.70" stroke="#1bb256" stroke-width="0.80" stroke-opacity="1.00"/>
<path d="M89.20,369.70 L93.20,367.80 L93.20,371.60 Z" fill="#1bb256"/>
<path d="M225.30,369.70 L221.30,367.80 L221.30,371.60 Z" fill="#1bb256"/>
<text x="98.70" y="383.00" font-size="9.3" fill="#e30f19" text-anchor="start" font-weight="bold" textLength="91.30" lengthAdjust="spacingAndGlyphs">ATA 159k 3.4 km/min</text>
<line x1="91.20" y1="385.30" x2="236.70" y2="385.30" stroke="#e30f19" stroke-width="0.80" stroke-opacity="1.00"/>
<path d="M89.20,385.30 L93.20,383.40 L93.20,387.20 Z" fill="#e30f19"/>
<path d="M238.70,385.30 L234.70,383.40 L234.70,387.20 Z" fill="#e30f19"/>
<text x="98.00" y="406.60" font-size="9.3" fill="#e30f19" text-anchor="start" font-weight="bold" textLength="66.50" lengthAdjust="spacingAndGlyphs">89k 3.4 km/min</text>
<line x1="91.20" y1="409.70" x2="168.50" y2="409.70" stroke="#e30f19" stroke-width="0.80" stroke-opacity="1.00"/>
<path d="M89.20,409.70 L93.20,407.80 L93.20,411.60 Z" fill="#e30f19"/>
<path d="M170.50,409.70 L166.50,407.80 L166.50,411.60 Z" fill="#e30f19"/>
<text x="283.60" y="351.70" font-size="9.3" fill="#1bb256" text-anchor="start" font-weight="bold" font-style="italic" textLength="136.20" lengthAdjust="spacingAndGlyphs" text-decoration="underline">ETA PL 1304Z 234k 7.1 km/min</text>
<line x1="238.00" y1="355.30" x2="459.80" y2="355.30" stroke="#1bb256" stroke-width="0.70" stroke-opacity="1.00"/>
<path d="M461.80,355.30 L457.80,353.40 L457.80,357.20 Z" fill="#1bb256"/>
<path d="M213.70,355.30 L217.70,353.40 L217.70,357.20 Z" fill="#1bb256"/>
<text x="252.10" y="370.10" font-size="9.3" fill="#e30f19" text-anchor="start" font-weight="bold" textLength="71.20" lengthAdjust="spacingAndGlyphs">100k 3.4 km/min</text>
<line x1="243.60" y1="373.00" x2="331.50" y2="373.00" stroke="#e30f19" stroke-width="0.80" stroke-opacity="1.00"/>
<path d="M241.60,373.00 L245.60,371.10 L245.60,374.90 Z" fill="#e30f19"/>
<path d="M333.50,373.00 L329.50,371.10 L329.50,374.90 Z" fill="#e30f19"/>
<text x="347.10" y="370.10" font-size="9.3" fill="#1bb256" text-anchor="start" font-weight="bold" font-style="italic" textLength="106.00" lengthAdjust="spacingAndGlyphs" text-decoration="underline">ETA PL 113k 7.6 km/min</text>
<line x1="339.30" y1="373.00" x2="459.80" y2="373.00" stroke="#1bb256" stroke-width="0.70" stroke-opacity="1.00"/>
<path d="M337.30,373.00 L341.30,371.10 L341.30,374.90 Z" fill="#1bb256"/>
<path d="M461.80,373.00 L457.80,371.10 L457.80,374.90 Z" fill="#1bb256"/>
<text x="254.70" y="389.20" font-size="9.3" fill="#1bb256" text-anchor="start" font-weight="bold" font-style="italic" textLength="135.70" lengthAdjust="spacingAndGlyphs" text-decoration="underline">ETA PL 1304Z 263k 7.1 km/min</text>
<line x1="215.70" y1="393.50" x2="459.80" y2="393.50" stroke="#1bb256" stroke-width="0.70" stroke-opacity="1.00"/>
<path d="M213.70,393.50 L217.70,391.60 L217.70,395.40 Z" fill="#1bb256"/>
<path d="M461.80,393.50 L457.80,391.60 L457.80,395.40 Z" fill="#1bb256"/>
<text x="261.50" y="405.90" font-size="9.3" fill="#1483c6" text-anchor="start" font-weight="bold" textLength="78.80" lengthAdjust="spacingAndGlyphs">a 128k de Mayday</text>
<line x1="244.30" y1="410.50" x2="357.40" y2="410.50" stroke="#1483c6" stroke-width="0.80" stroke-opacity="1.00"/>
<path d="M242.30,410.50 L246.30,408.60 L246.30,412.40 Z" fill="#1483c6"/>
<path d="M359.40,410.50 L355.40,408.60 L355.40,412.40 Z" fill="#1483c6"/>
<line x1="361.10" y1="403.50" x2="361.10" y2="621.50" stroke="#1483c6" stroke-width="1.10"/>
<path d="M361.10,400.10 L358.90,404.70 L363.30,404.70 Z" fill="#1483c6"/>
<path d="M361.10,624.80 L358.90,620.20 L363.30,620.20 Z" fill="#1483c6"/>
<line x1="338.90" y1="414.90" x2="507.10" y2="414.90" stroke="#1483c6" stroke-width="0.90" stroke-opacity="1.00"/>
<path d="M336.90,414.90 L340.90,413.00 L340.90,416.80 Z" fill="#1483c6"/>
<path d="M509.10,414.90 L505.10,413.00 L505.10,416.80 Z" fill="#1483c6"/>
<text x="514.20" y="417.80" font-size="9.3" fill="#1483c6" text-anchor="start" font-weight="bold" textLength="94.40" lengthAdjust="spacingAndGlyphs">T-43 a 184k del TC-48</text>
<line x1="467.80" y1="394.10" x2="507.10" y2="394.10" stroke="#1483c6" stroke-width="0.80" stroke-opacity="1.00"/>
<path d="M465.80,394.10 L469.80,392.20 L469.80,396.00 Z" fill="#1483c6"/>
<path d="M509.10,394.10 L505.10,392.20 L505.10,396.00 Z" fill="#1483c6"/>
<text x="514.20" y="397.80" font-size="9.3" fill="#1483c6" text-anchor="start" font-weight="bold" textLength="121.10" lengthAdjust="spacingAndGlyphs">T-43 a 50k de Puerto Limón</text>
<text x="510.80" y="369.60" font-size="9.3" fill="#1483c6" text-anchor="middle" font-weight="bold">1305Z</text>
<text x="510.80" y="379.80" font-size="9.3" fill="#1483c6" text-anchor="middle" font-weight="bold">443k</text>
<line x1="510.50" y1="384.00" x2="510.50" y2="624.00" stroke="#1483c6" stroke-width="0.80" stroke-dasharray="1.1 1.1"/>
<path d="M510.50,627.60 L508.30,623.00 L512.70,623.00 Z" fill="#1483c6"/>
</g>
<g id="hex">
<line x1="87.50" y1="435.30" x2="87.50" y2="524.30" stroke="#1e1e1e" stroke-width="1.60"/>
<line x1="172.20" y1="435.30" x2="172.20" y2="544.50" stroke="#e30f19" stroke-width="0.80" stroke-dasharray="1.1 1.1"/>
<line x1="211.40" y1="435.30" x2="211.40" y2="544.50" stroke="#e30f19" stroke-width="0.80" stroke-dasharray="1.1 1.1"/>
<line x1="269.50" y1="435.30" x2="269.50" y2="544.50" stroke="#e30f19" stroke-width="0.80" stroke-dasharray="1.1 1.1"/>
<line x1="335.50" y1="435.30" x2="335.50" y2="544.50" stroke="#e30f19" stroke-width="0.80" stroke-dasharray="1.1 1.1"/>
<line x1="240.30" y1="435.30" x2="240.30" y2="447.20" stroke="#444" stroke-width="0.80" stroke-dasharray="1.1 1.1"/>
<text x="107.9" y="452.9" font-size="14.8" font-weight="bold" fill="#e30f19" textLength="42.6" lengthAdjust="spacingAndGlyphs">TC-48</text>
<text x="107.9" y="484.1" font-size="14.8" font-weight="bold" fill="#1483c6" textLength="30.6" lengthAdjust="spacingAndGlyphs">T-43</text>
<text x="107.9" y="517.0" font-size="14.8" font-weight="bold" fill="#dc0f92" textLength="42.6" lengthAdjust="spacingAndGlyphs">TC-48</text>
<polygon points="87.50,437.10 96.25,442.15 96.25,452.25 87.50,457.30 78.75,452.25 78.75,442.15" fill="#f0060e" stroke="#fff" stroke-width="0.6"/>
<text x="87.50" y="450.60" font-size="9.5" fill="#fff" text-anchor="middle">01</text>
<polygon points="172.20,437.10 180.95,442.15 180.95,452.25 172.20,457.30 163.45,452.25 163.45,442.15" fill="#f0060e" stroke="#fff" stroke-width="0.6"/>
<text x="172.20" y="450.60" font-size="9.5" fill="#fff" text-anchor="middle">02</text>
<polygon points="211.40,437.10 220.15,442.15 220.15,452.25 211.40,457.30 202.65,452.25 202.65,442.15" fill="#f0060e" stroke="#fff" stroke-width="0.6"/>
<text x="211.40" y="450.60" font-size="9.5" fill="#fff" text-anchor="middle">03</text>
<polygon points="240.40,437.10 249.15,442.15 249.15,452.25 240.40,457.30 231.65,452.25 231.65,442.15" fill="#f0060e" stroke="#fff" stroke-width="0.6"/>
<text x="240.40" y="450.60" font-size="9.5" fill="#fff" text-anchor="middle">04</text>
<polygon points="269.50,437.10 278.25,442.15 278.25,452.25 269.50,457.30 260.75,452.25 260.75,442.15" fill="#f0060e" stroke="#fff" stroke-width="0.6"/>
<text x="269.50" y="450.60" font-size="9.5" fill="#fff" text-anchor="middle">05</text>
<polygon points="276.40,454.50 285.15,459.55 285.15,469.65 276.40,474.70 267.65,469.65 267.65,459.55" fill="#f0060e" stroke="#fff" stroke-width="0.6"/>
<text x="276.40" y="468.00" font-size="9.5" fill="#fff" text-anchor="middle">06</text>
<polygon points="335.30,437.10 344.05,442.15 344.05,452.25 335.30,457.30 326.55,452.25 326.55,442.15" fill="#f0060e" stroke="#fff" stroke-width="0.6"/>
<text x="335.30" y="450.60" font-size="9.5" fill="#fff" text-anchor="middle">07</text>
<polygon points="87.50,469.60 96.25,474.65 96.25,484.75 87.50,489.80 78.75,484.75 78.75,474.65" fill="#1a8dd2" stroke="#fff" stroke-width="0.6"/>
<text x="87.50" y="483.10" font-size="9.5" fill="#fff" text-anchor="middle">01</text>
<polygon points="252.40,469.80 261.15,474.85 261.15,484.95 252.40,490.00 243.65,484.95 243.65,474.85" fill="#1a8dd2" stroke="#fff" stroke-width="0.6"/>
<text x="252.40" y="483.30" font-size="9.5" fill="#fff" text-anchor="middle">02</text>
<polygon points="315.20,469.80 323.95,474.85 323.95,484.95 315.20,490.00 306.45,484.95 306.45,474.85" fill="#1a8dd2" stroke="#fff" stroke-width="0.6"/>
<text x="315.20" y="483.30" font-size="9.5" fill="#fff" text-anchor="middle">03</text>
<polygon points="361.10,469.80 369.85,474.85 369.85,484.95 361.10,490.00 352.35,484.95 352.35,474.85" fill="#1a8dd2" stroke="#fff" stroke-width="0.6"/>
<text x="361.10" y="483.30" font-size="9.5" fill="#fff" text-anchor="middle">04</text>
<polygon points="407.40,469.40 416.15,474.45 416.15,484.55 407.40,489.60 398.65,484.55 398.65,474.45" fill="#1a8dd2" stroke="#fff" stroke-width="0.6"/>
<text x="407.40" y="482.90" font-size="9.5" fill="#fff" text-anchor="middle">05</text>
<polygon points="417.90,484.90 426.65,489.95 426.65,500.05 417.90,505.10 409.15,500.05 409.15,489.95" fill="#1a8dd2" stroke="#fff" stroke-width="0.6"/>
<text x="417.90" y="498.40" font-size="9.5" fill="#fff" text-anchor="middle">06</text>
<polygon points="510.50,469.60 519.25,474.65 519.25,484.75 510.50,489.80 501.75,484.75 501.75,474.65" fill="#1a8dd2" stroke="#fff" stroke-width="0.6"/>
<text x="510.50" y="483.10" font-size="9.5" fill="#fff" text-anchor="middle">07</text>
<polygon points="1056.40,469.30 1065.15,474.35 1065.15,484.45 1056.40,489.50 1047.65,484.45 1047.65,474.35" fill="#1a8dd2" stroke="#fff" stroke-width="0.6"/>
<text x="1056.40" y="482.80" font-size="9.5" fill="#fff" text-anchor="middle">08</text>
<polygon points="314.70,484.90 323.45,489.95 323.45,500.05 314.70,505.10 305.95,500.05 305.95,489.95" fill="#e8149c" stroke="#fff" stroke-width="0.6"/>
<text x="314.70" y="498.40" font-size="9.5" fill="#fff" text-anchor="middle">06</text>
<polygon points="87.50,501.60 96.25,506.65 96.25,516.75 87.50,521.80 78.75,516.75 78.75,506.65" fill="#e8149c" stroke="#fff" stroke-width="0.6"/>
<text x="87.50" y="515.10" font-size="9.5" fill="#fff" text-anchor="middle">01</text>
<polygon points="189.90,501.60 198.65,506.65 198.65,516.75 189.90,521.80 181.15,516.75 181.15,506.65" fill="#e8149c" stroke="#fff" stroke-width="0.6"/>
<text x="189.90" y="515.10" font-size="9.5" fill="#fff" text-anchor="middle">02</text>
<polygon points="239.40,501.60 248.15,506.65 248.15,516.75 239.40,521.80 230.65,516.75 230.65,506.65" fill="#e8149c" stroke="#fff" stroke-width="0.6"/>
<text x="239.40" y="515.10" font-size="9.5" fill="#fff" text-anchor="middle">03</text>
<polygon points="273.00,501.60 281.75,506.65 281.75,516.75 273.00,521.80 264.25,516.75 264.25,506.65" fill="#e8149c" stroke="#fff" stroke-width="0.6"/>
<text x="273.00" y="515.10" font-size="9.5" fill="#fff" text-anchor="middle">04</text>
<polygon points="307.40,501.60 316.15,506.65 316.15,516.75 307.40,521.80 298.65,516.75 298.65,506.65" fill="#e8149c" stroke="#fff" stroke-width="0.6"/>
<text x="307.40" y="515.10" font-size="9.5" fill="#fff" text-anchor="middle">05</text>
<polygon points="384.60,501.60 393.35,506.65 393.35,516.75 384.60,521.80 375.85,516.75 375.85,506.65" fill="#e8149c" stroke="#fff" stroke-width="0.6"/>
<text x="384.60" y="515.10" font-size="9.5" fill="#fff" text-anchor="middle">07</text>
</g>
<g id="bottom">
<line x1="87.50" y1="524.30" x2="87.50" y2="623.90" stroke="#dc0f92" stroke-width="0.80" stroke-dasharray="1.1 1.1"/>
<path d="M87.50,626.90 L85.30,622.30 L89.70,622.30 Z" fill="#dc0f92"/>
<text x="87.90" y="639.60" font-size="9.3" fill="#dc0f92" text-anchor="middle" font-weight="bold">1149Z</text>
<text x="87.90" y="650.20" font-size="9.3" fill="#dc0f92" text-anchor="middle" font-weight="bold">00k</text>
<line x1="189.90" y1="524.30" x2="189.90" y2="623.90" stroke="#dc0f92" stroke-width="0.80" stroke-dasharray="1.1 1.1"/>
<path d="M189.90,626.90 L187.70,622.30 L192.10,622.30 Z" fill="#dc0f92"/>
<text x="190.30" y="639.60" font-size="9.3" fill="#dc0f92" text-anchor="middle" font-weight="bold">1215Z</text>
<text x="190.30" y="650.20" font-size="9.3" fill="#dc0f92" text-anchor="middle" font-weight="bold">107k</text>
<line x1="239.40" y1="524.30" x2="239.40" y2="623.90" stroke="#dc0f92" stroke-width="0.80" stroke-dasharray="1.1 1.1"/>
<path d="M239.40,626.90 L237.20,622.30 L241.60,622.30 Z" fill="#dc0f92"/>
<text x="239.80" y="639.60" font-size="9.3" fill="#dc0f92" text-anchor="middle" font-weight="bold">1227Z</text>
<text x="239.80" y="650.20" font-size="9.3" fill="#dc0f92" text-anchor="middle" font-weight="bold">159k</text>
<text x="239.80" y="660.80" font-size="9.3" fill="#dc0f92" text-anchor="middle" font-weight="bold">Mike 5</text>
<line x1="307.50" y1="524.30" x2="307.50" y2="623.90" stroke="#dc0f92" stroke-width="0.80" stroke-dasharray="1.1 1.1"/>
<path d="M307.50,626.90 L305.30,622.30 L309.70,622.30 Z" fill="#dc0f92"/>
<text x="307.90" y="639.60" font-size="9.3" fill="#dc0f92" text-anchor="middle" font-weight="bold">1245Z</text>
<text x="307.90" y="650.20" font-size="9.3" fill="#dc0f92" text-anchor="middle" font-weight="bold">230k</text>
<line x1="384.60" y1="524.30" x2="384.60" y2="623.90" stroke="#dc0f92" stroke-width="0.80" stroke-dasharray="1.1 1.1"/>
<path d="M384.60,626.90 L382.40,622.30 L386.80,622.30 Z" fill="#dc0f92"/>
<text x="385.00" y="639.60" font-size="9.3" fill="#dc0f92" text-anchor="middle" font-weight="bold">1305Z</text>
<text x="385.00" y="650.20" font-size="9.3" fill="#dc0f92" text-anchor="middle" font-weight="bold">312k</text>
<line x1="272.90" y1="524.30" x2="272.90" y2="623.90" stroke="#555" stroke-width="0.80" stroke-dasharray="1.1 1.1"/>
<path d="M272.90,626.90 L270.70,622.30 L275.10,622.30 Z" fill="#444"/>
<text x="274.60" y="639.60" font-size="9.3" fill="#4a4a4a" text-anchor="middle" stroke="#4a4a4a" stroke-width="0.25">1236Z</text>
<text x="274.60" y="650.20" font-size="9.3" fill="#4a4a4a" text-anchor="middle" stroke="#4a4a4a" stroke-width="0.25">193k</text>
<text x="274.60" y="660.80" font-size="9.3" fill="#4a4a4a" text-anchor="middle" font-weight="bold">Mike 5</text>
<text x="274.60" y="671.40" font-size="9.3" fill="#4a4a4a" text-anchor="middle" font-weight="bold">+ 34k</text>
<text x="274.60" y="682.00" font-size="9.3" fill="#4a4a4a" text-anchor="middle" font-weight="bold">Mayday</text>
<text x="463.60" y="639.60" font-size="9.3" fill="#1bb256" text-anchor="middle" font-weight="bold">ETA 1320Z</text>
<text x="463.60" y="650.20" font-size="9.3" fill="#1bb256" text-anchor="middle" font-weight="bold">393k</text>
<text x="463.60" y="660.80" font-size="9.3" fill="#1bb256" text-anchor="middle" font-weight="bold" textLength="59.70" lengthAdjust="spacingAndGlyphs">Puerto Limón</text>
<text x="511.20" y="639.60" font-size="9.3" fill="#1483c6" text-anchor="middle" font-weight="bold">1305Z</text>
<text x="511.20" y="650.20" font-size="9.3" fill="#1483c6" text-anchor="middle" font-weight="bold">443k</text>
<text x="180.90" y="540.10" font-size="9.3" fill="#2e2e2e" text-anchor="middle" font-weight="bold">18k</text>
<line x1="175.80" y1="544.20" x2="186.30" y2="544.20" stroke="#2e2e2e" stroke-width="0.70" stroke-opacity="1.00"/>
<path d="M173.80,544.20 L177.80,542.30 L177.80,546.10 Z" fill="#2e2e2e"/>
<path d="M188.30,544.20 L184.30,542.30 L184.30,546.10 Z" fill="#2e2e2e"/>
<text x="225.00" y="540.10" font-size="9.3" fill="#2e2e2e" text-anchor="middle" font-weight="bold">29k</text>
<line x1="214.70" y1="544.20" x2="236.20" y2="544.20" stroke="#2e2e2e" stroke-width="0.70" stroke-opacity="1.00"/>
<path d="M212.70,544.20 L216.70,542.30 L216.70,546.10 Z" fill="#2e2e2e"/>
<path d="M238.20,544.20 L234.20,542.30 L234.20,546.10 Z" fill="#2e2e2e"/>
<text x="256.40" y="533.30" font-size="9.3" fill="#2e2e2e" text-anchor="middle" font-weight="bold">34k</text>
<line x1="243.10" y1="535.70" x2="269.70" y2="535.70" stroke="#2e2e2e" stroke-width="0.70" stroke-opacity="1.00"/>
<path d="M241.10,535.70 L245.10,533.80 L245.10,537.60 Z" fill="#2e2e2e"/>
<path d="M271.70,535.70 L267.70,533.80 L267.70,537.60 Z" fill="#2e2e2e"/>
<text x="288.10" y="540.10" font-size="9.3" fill="#2e2e2e" text-anchor="middle" font-weight="bold">39k</text>
<line x1="273.40" y1="544.20" x2="303.80" y2="544.20" stroke="#2e2e2e" stroke-width="0.70" stroke-opacity="1.00"/>
<path d="M271.40,544.20 L275.40,542.30 L275.40,546.10 Z" fill="#2e2e2e"/>
<path d="M305.80,544.20 L301.80,542.30 L301.80,546.10 Z" fill="#2e2e2e"/>
<text x="359.60" y="540.10" font-size="9.3" fill="#2e2e2e" text-anchor="middle" font-weight="bold">53k</text>
<line x1="339.30" y1="544.20" x2="380.40" y2="544.20" stroke="#2e2e2e" stroke-width="0.70" stroke-opacity="1.00"/>
<path d="M337.30,544.20 L341.30,542.30 L341.30,546.10 Z" fill="#2e2e2e"/>
<path d="M382.40,544.20 L378.40,542.30 L378.40,546.10 Z" fill="#2e2e2e"/>
<text x="544.30" y="546.90" font-size="9.3" fill="#2e2e2e" text-anchor="middle" font-weight="bold">xxk</text>
<line x1="528.70" y1="550.30" x2="560.20" y2="550.30" stroke="#2e2e2e" stroke-width="0.70" stroke-opacity="1.00"/>
<path d="M526.70,550.30 L530.70,548.40 L530.70,552.20 Z" fill="#2e2e2e"/>
<path d="M562.20,550.30 L558.20,548.40 L558.20,552.20 Z" fill="#2e2e2e"/>
<text x="571.5" y="542.6" font-size="9.1" font-weight="bold" fill="#4a4a4a" textLength="151" lengthAdjust="spacingAndGlyphs">Diferencia en km entre <tspan fill="#e30f19">slow</tspan> y <tspan fill="#dc0f92">fast</tspan></text>
<text x="571.5" y="553.3" font-size="9.1" font-weight="bold" fill="#4a4a4a" textLength="99" lengthAdjust="spacingAndGlyphs">para un mismo evento</text>
<text x="102.00" y="543.80" font-size="9.3" fill="#1bb256" text-anchor="start" font-weight="bold" font-style="italic" textLength="68.40" lengthAdjust="spacingAndGlyphs">ETA 4.1 km/min</text>
<line x1="92.10" y1="547.70" x2="223.80" y2="547.70" stroke="#1bb256" stroke-width="0.80" stroke-opacity="1.00"/>
<path d="M90.10,547.70 L94.10,545.80 L94.10,549.60 Z" fill="#1bb256"/>
<path d="M225.80,547.70 L221.80,545.80 L221.80,549.60 Z" fill="#1bb256"/>
<text x="202.80" y="563.90" font-size="9.3" fill="#1bb256" text-anchor="start" stroke="#1bb256" stroke-width="0.25" textLength="49.40" lengthAdjust="spacingAndGlyphs">1232Z 147k</text>
<text x="206.20" y="576.20" font-size="9.3" fill="#1bb256" text-anchor="start" font-weight="bold" font-style="italic" textLength="17.90" lengthAdjust="spacingAndGlyphs" text-decoration="underline">ETA</text>
<text x="195.10" y="586.70" font-size="9.3" fill="#1bb256" text-anchor="start" font-weight="bold" font-style="italic" textLength="40.00" lengthAdjust="spacingAndGlyphs" text-decoration="underline">3 km/min</text>
<line x1="193.70" y1="589.50" x2="236.20" y2="589.50" stroke="#1bb256" stroke-width="0.80" stroke-opacity="1.00"/>
<path d="M191.70,589.50 L195.70,587.60 L195.70,591.40 Z" fill="#1bb256"/>
<path d="M238.20,589.50 L234.20,587.60 L234.20,591.40 Z" fill="#1bb256"/>
<text x="115.10" y="593.20" font-size="9.3" fill="#dc0f92" text-anchor="start" font-weight="bold" textLength="68.10" lengthAdjust="spacingAndGlyphs">ATA 4.1 km/min</text>
<line x1="92.10" y1="596.30" x2="235.70" y2="596.30" stroke="#dc0f92" stroke-width="0.80" stroke-opacity="1.00"/>
<path d="M90.10,596.30 L94.10,594.40 L94.10,598.20 Z" fill="#dc0f92"/>
<path d="M237.70,596.30 L233.70,594.40 L233.70,598.20 Z" fill="#dc0f92"/>
<text x="115.10" y="611.60" font-size="9.3" fill="#dc0f92" text-anchor="start" font-weight="bold" textLength="48.20" lengthAdjust="spacingAndGlyphs">4.1 km/min</text>
<line x1="91.20" y1="614.80" x2="186.30" y2="614.80" stroke="#dc0f92" stroke-width="0.80" stroke-opacity="1.00"/>
<path d="M89.20,614.80 L93.20,612.90 L93.20,616.70 Z" fill="#dc0f92"/>
<path d="M188.30,614.80 L184.30,612.90 L184.30,616.70 Z" fill="#dc0f92"/>
<text x="191.70" y="611.60" font-size="9.3" fill="#dc0f92" text-anchor="start" font-weight="bold" textLength="47.70" lengthAdjust="spacingAndGlyphs">4.3 km/min</text>
<line x1="193.70" y1="614.80" x2="236.20" y2="614.80" stroke="#dc0f92" stroke-width="0.80" stroke-opacity="1.00"/>
<path d="M191.70,614.80 L195.70,612.90 L195.70,616.70 Z" fill="#dc0f92"/>
<path d="M238.20,614.80 L234.20,612.90 L234.20,616.70 Z" fill="#dc0f92"/>
<text x="287.90" y="593.20" font-size="9.3" fill="#dc0f92" text-anchor="start" font-weight="bold" textLength="48.00" lengthAdjust="spacingAndGlyphs">4.1 km/min</text>
<line x1="243.10" y1="596.30" x2="380.90" y2="596.30" stroke="#dc0f92" stroke-width="0.80" stroke-opacity="1.00"/>
<path d="M241.10,596.30 L245.10,594.40 L245.10,598.20 Z" fill="#dc0f92"/>
<path d="M382.90,596.30 L378.90,594.40 L378.90,598.20 Z" fill="#dc0f92"/>
<text x="415.40" y="534.50" font-size="9.3" fill="#1bb256" text-anchor="start" font-weight="bold" font-style="italic" textLength="18.20" lengthAdjust="spacingAndGlyphs" text-decoration="underline">ETA</text>
<text x="391.10" y="544.70" font-size="9.3" fill="#1bb256" text-anchor="start" font-weight="bold" font-style="italic" textLength="66.40" lengthAdjust="spacingAndGlyphs" text-decoration="underline">82k 5.4 km/min</text>
<line x1="388.00" y1="550.30" x2="460.20" y2="550.30" stroke="#1bb256" stroke-width="0.80" stroke-opacity="1.00"/>
<path d="M386.00,550.30 L390.00,548.40 L390.00,552.20 Z" fill="#1bb256"/>
<path d="M462.20,550.30 L458.20,548.40 L458.20,552.20 Z" fill="#1bb256"/>
<text x="315.60" y="562.60" font-size="9.3" fill="#1bb256" text-anchor="start" font-weight="bold" font-style="italic" textLength="106.40" lengthAdjust="spacingAndGlyphs" text-decoration="underline">ETA PL 200k 7.2 km/min</text>
<line x1="277.60" y1="566.30" x2="460.20" y2="566.30" stroke="#1bb256" stroke-width="0.70" stroke-opacity="1.00"/>
<path d="M275.60,566.30 L279.60,564.40 L279.60,568.20 Z" fill="#1bb256"/>
<path d="M462.20,566.30 L458.20,564.40 L458.20,568.20 Z" fill="#1bb256"/>
<text x="291.30" y="577.90" font-size="9.3" fill="#1bb256" text-anchor="start" font-weight="bold" font-style="italic" textLength="106.90" lengthAdjust="spacingAndGlyphs" text-decoration="underline">ETA PL 234k 6.4 km/min</text>
<line x1="243.90" y1="582.10" x2="460.20" y2="582.10" stroke="#1bb256" stroke-width="0.70" stroke-opacity="1.00"/>
<path d="M241.90,582.10 L245.90,580.20 L245.90,584.00 Z" fill="#1bb256"/>
<path d="M462.20,582.10 L458.20,580.20 L458.20,584.00 Z" fill="#1bb256"/>
<text x="279.70" y="611.10" font-size="9.3" fill="#1483c6" text-anchor="start" font-weight="bold" textLength="74.10" lengthAdjust="spacingAndGlyphs">a 94k de Mayday</text>
<line x1="276.60" y1="615.00" x2="357.40" y2="615.00" stroke="#1483c6" stroke-width="0.80" stroke-opacity="1.00"/>
<path d="M274.60,615.00 L278.60,613.10 L278.60,616.90 Z" fill="#1483c6"/>
<path d="M359.40,615.00 L355.40,613.10 L355.40,616.90 Z" fill="#1483c6"/>
<line x1="467.10" y1="596.60" x2="506.90" y2="596.60" stroke="#1483c6" stroke-width="0.80" stroke-opacity="1.00"/>
<path d="M465.10,596.60 L469.10,594.70 L469.10,598.50 Z" fill="#1483c6"/>
<path d="M508.90,596.60 L504.90,594.70 L504.90,598.50 Z" fill="#1483c6"/>
<text x="513.60" y="599.70" font-size="9.3" fill="#1483c6" text-anchor="start" font-weight="bold" textLength="121.10" lengthAdjust="spacingAndGlyphs">T-43 a 50k de Puerto Limón</text>
<line x1="388.00" y1="615.00" x2="506.90" y2="615.00" stroke="#1483c6" stroke-width="0.80" stroke-opacity="1.00"/>
<path d="M386.00,615.00 L390.00,613.10 L390.00,616.90 Z" fill="#1483c6"/>
<path d="M508.90,615.00 L504.90,613.10 L504.90,616.90 Z" fill="#1483c6"/>
<text x="513.60" y="618.20" font-size="9.3" fill="#1483c6" text-anchor="start" font-weight="bold" textLength="94.40" lengthAdjust="spacingAndGlyphs">T-43 a 131k del TC-48</text>
</g>
<g id="rb">
<line x1="1060.70" y1="435.30" x2="1060.70" y2="596.60" stroke="#1483c6" stroke-width="0.80" stroke-dasharray="1.1 1.1"/>
<text x="1055.70" y="544.70" font-size="9.15" fill="#1483c6" text-anchor="end" font-weight="bold" textLength="180.40" lengthAdjust="spacingAndGlyphs">T-43 ATA Illopango 1519Z (3h36' de vuelo)</text>
<text x="1055.70" y="555.70" font-size="9.15" fill="#1483c6" text-anchor="end" font-weight="bold" textLength="124.20" lengthAdjust="spacingAndGlyphs">216 minutos à 5.4 km/minuto</text>
<text x="1055.70" y="587.70" font-size="9.15" fill="#1483c6" text-anchor="end" font-weight="bold" textLength="242.50" lengthAdjust="spacingAndGlyphs">Plan de vuelo original: 541 MN (1002 km) 3h25' de vuelo</text>
<text x="1055.70" y="598.30" font-size="9.15" fill="#1483c6" text-anchor="end" font-weight="bold" textLength="163.40" lengthAdjust="spacingAndGlyphs">Vuelo real: 1166 km en 3h36' de vuelo</text>
<text x="1059.1" y="671.5" font-size="10.2" fill="#222" text-anchor="end" textLength="222.1" lengthAdjust="spacingAndGlyphs">© Copyright hepta.aero - missing.aero &amp; partners</text>
<text x="1059.1" y="682.6" font-size="10.2" fill="#222" text-anchor="end" textLength="138.7" lengthAdjust="spacingAndGlyphs">2003-2018 - All rights reserved</text>
</g>
</svg>
</body></html>
